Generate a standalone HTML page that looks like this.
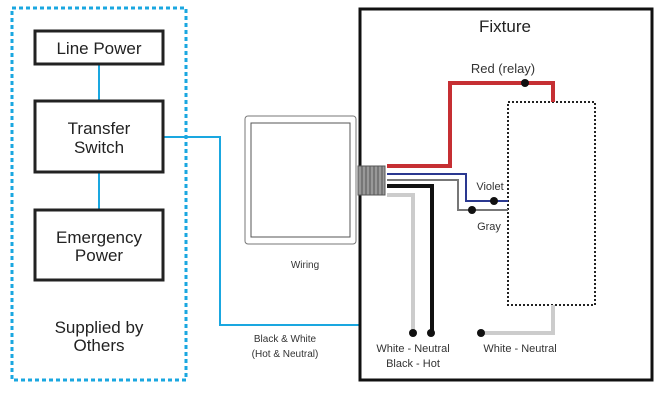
<!DOCTYPE html>
<html><head><style>body{margin:0;background:#fff}svg{display:block}</style></head><body>
<svg width="662" height="407" viewBox="0 0 662 407" font-family="Liberation Sans, sans-serif">
<rect x="12" y="8" width="174" height="372" fill="none" stroke="#1aa7e0" stroke-width="3" stroke-dasharray="4,3"/>
<line x1="99" y1="64" x2="99" y2="100" stroke="#1aa7e0" stroke-width="2"/>
<line x1="99" y1="172" x2="99" y2="210" stroke="#1aa7e0" stroke-width="2"/>
<polyline points="163,137 220,137 220,325 360,325" fill="none" stroke="#1aa7e0" stroke-width="2"/>
<g fill="#fff" stroke="#222" stroke-width="3">
<rect x="35" y="31" width="128" height="33"/>
<rect x="35" y="101" width="128" height="71"/>
<rect x="35" y="210" width="128" height="70"/>
</g>
<g font-size="17" fill="#222" text-anchor="middle">
<text x="99" y="54">Line Power</text>
<text x="99" y="134">Transfer</text>
<text x="99" y="153">Switch</text>
<text x="99" y="243">Emergency</text>
<text x="99" y="261">Power</text>
<text x="99" y="333">Supplied by</text>
<text x="99" y="351">Others</text>
</g>
<rect x="245" y="116" width="111" height="128" rx="3" fill="#fff" stroke="#777" stroke-width="1"/>
<rect x="251" y="123" width="99" height="114" fill="none" stroke="#555" stroke-width="1"/>
<g font-size="10" fill="#333" text-anchor="middle">
<text x="305" y="268">Wiring</text>
<text x="285" y="342">Black &amp; White</text>
<text x="285" y="357">(Hot &amp; Neutral)</text>
</g>
<rect x="360" y="9" width="292" height="371" fill="none" stroke="#111" stroke-width="3"/>
<text x="505" y="32" font-size="17" fill="#222" text-anchor="middle">Fixture</text>
<rect x="508" y="102" width="87" height="203" fill="none" stroke="#222" stroke-width="2" stroke-dasharray="2,2"/>
<polyline points="387,166 450,166 450,83 553,83 553,102" fill="none" stroke="#c62f33" stroke-width="4"/>
<polyline points="387,174 466,174 466,201 508,201" fill="none" stroke="#2a3890" stroke-width="2"/>
<polyline points="387,180 458,180 458,210 508,210" fill="none" stroke="#777" stroke-width="2"/>
<polyline points="387,186 432,186 432,333" fill="none" stroke="#111" stroke-width="4"/>
<polyline points="387,195 413,195 413,333" fill="none" stroke="#ccc" stroke-width="4"/>
<polyline points="481,333 553,333 553,305" fill="none" stroke="#ccc" stroke-width="4"/>
<rect x="358" y="166" width="27" height="29" fill="#999" stroke="#555" stroke-width="1"/>
<g stroke="#555" stroke-width="1">
<line x1="362" y1="166" x2="362" y2="195"/><line x1="366" y1="166" x2="366" y2="195"/><line x1="370" y1="166" x2="370" y2="195"/><line x1="374" y1="166" x2="374" y2="195"/><line x1="378" y1="166" x2="378" y2="195"/><line x1="382" y1="166" x2="382" y2="195"/>
</g>
<g fill="#111">
<circle cx="525" cy="83" r="4"/><circle cx="494" cy="201" r="4"/><circle cx="472" cy="210" r="4"/>
<circle cx="413" cy="333" r="4"/><circle cx="431" cy="333" r="4"/><circle cx="481" cy="333" r="4"/>
</g>
<g font-size="11" fill="#333" text-anchor="middle">
<text x="503" y="73" font-size="13">Red (relay)</text>
<text x="490" y="190">Violet</text>
<text x="489" y="230">Gray</text>
<text x="413" y="352">White - Neutral</text>
<text x="413" y="367">Black - Hot</text>
<text x="520" y="352">White - Neutral</text>
</g>
</svg>
</body></html>
